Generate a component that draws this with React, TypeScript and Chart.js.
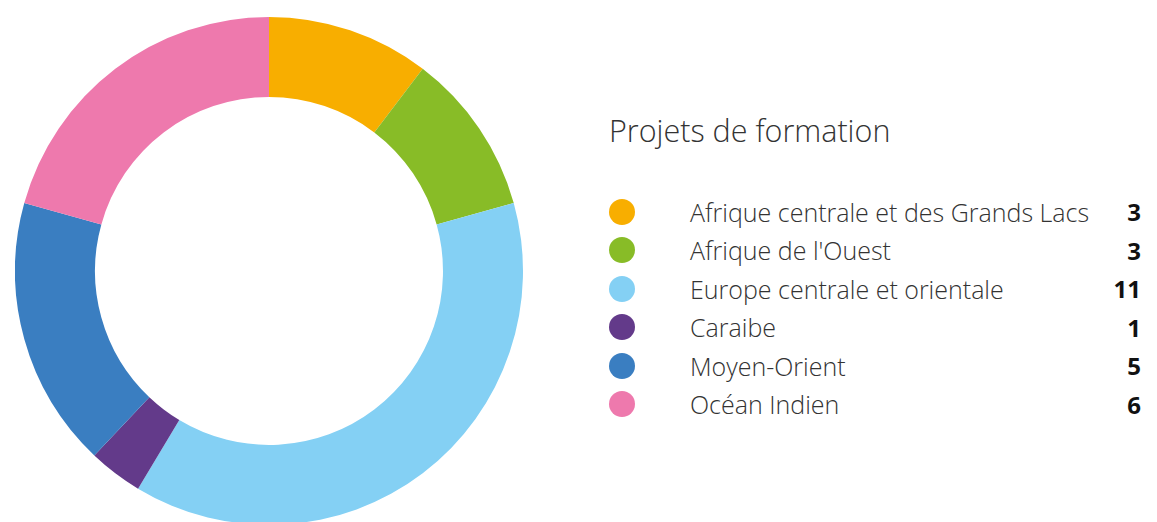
import React, { useEffect, useRef } from "react";
import { Chart, registerables } from "chart.js";

Chart.register(...registerables);

const TITLE = "Projets de formation";
const LABELS = [
  "Afrique centrale et des Grands Lacs",
  "Afrique de l'Ouest",
  "Europe centrale et orientale",
  "Caraibe",
  "Moyen-Orient",
  "Océan Indien",
];
const VALUES = [3, 3, 11, 1, 5, 6];
const COLORS = ["#F8AE00", "#88BC27", "#84D0F4", "#633A8A", "#3A7EC1", "#EE79AD"];

const FONT = "'Open Sans', 'Noto Sans', sans-serif";

export default function App() {
  const ref = useRef<HTMLCanvasElement | null>(null);

  useEffect(() => {
    if (!ref.current) return;
    const chart = new Chart(ref.current, {
      type: "doughnut",
      data: {
        labels: LABELS,
        datasets: [
          {
            data: VALUES,
            backgroundColor: COLORS,
            borderWidth: 0,
            hoverOffset: 0,
          },
        ],
      },
      options: {
        animation: false,
        responsive: false,
        maintainAspectRatio: false,
        cutout: "68.5%",
        layout: { padding: 0 },
        plugins: {
          legend: { display: false },
          tooltip: { enabled: false },
          title: { display: false },
        },
      },
    });
    return () => chart.destroy();
  }, []);

  const rowH = 38.5;
  return (
    <div
      style={{
        position: "fixed",
        left: 0,
        top: 0,
        width: 1157,
        height: 522,
        overflow: "hidden",
        background: "#fff",
        fontFamily: FONT,
      }}
    >
      <canvas
        ref={ref}
        width={508}
        height={508}
        style={{ position: "absolute", left: 15, top: 17, width: 508, height: 508 }}
      />
      <div
        style={{
          position: "absolute",
          left: 609,
          top: 109.2,
          fontSize: 30.5,
          fontWeight: 300,
          color: "#333",
          lineHeight: "normal",
          whiteSpace: "nowrap",
        }}
      >
        {TITLE}
      </div>
      {LABELS.map((lab, i) => (
        <div
          key={lab}
          style={{
            position: "absolute",
            left: 609,
            right: 16,
            top: 211.7 - rowH / 2 + i * rowH,
            height: rowH,
            display: "flex",
            alignItems: "center",
            whiteSpace: "nowrap",
          }}
        >
          <span
            style={{
              display: "inline-block",
              width: 26,
              height: 26,
              borderRadius: "50%",
              background: COLORS[i],
              flex: "0 0 auto",
            }}
          />
          <span
            style={{
              marginLeft: 55,
              fontSize: 25,
              fontWeight: 300,
              color: "#333",
              flex: "1 1 auto",
            }}
          >
            {lab}
          </span>
          <span style={{ fontSize: 24, fontWeight: 700, color: "#111", textAlign: "right" }}>
            {VALUES[i]}
          </span>
        </div>
      ))}
    </div>
  );
}
